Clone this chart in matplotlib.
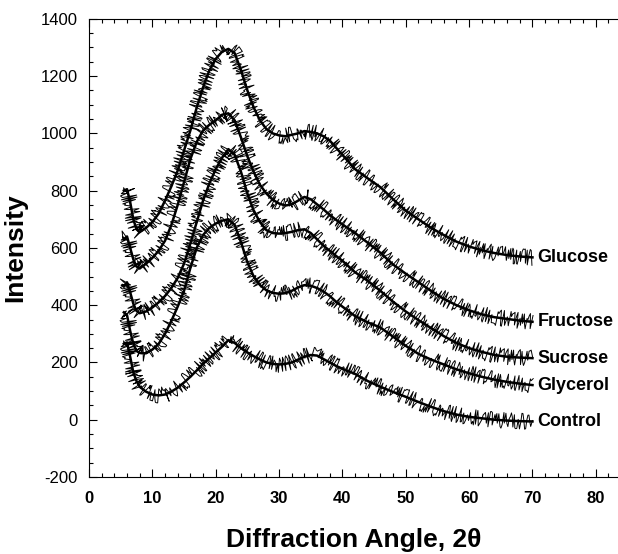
import matplotlib
matplotlib.use("Agg")
import matplotlib.pyplot as plt
from matplotlib.ticker import MultipleLocator

plt.rcParams['font.family'] = ['Liberation Sans', 'DejaVu Sans']
plt.rcParams['axes.unicode_minus'] = False

# diffraction angle (2 theta) sample points
angle = [5.5, 6, 6.5, 7, 7.5, 8,
         9, 10, 11, 12, 13, 14, 15, 16, 17, 18, 19, 20, 21, 22, 23, 24,
         25, 26, 27, 28, 29, 30, 31, 32, 33, 34, 35, 36, 37, 38, 39, 40,
         42, 44, 46, 48, 50, 52, 54, 56, 58, 60, 62, 64, 66, 68, 70]

glucose = [800, 805, 760, 700, 665, 655,
           670, 690, 720, 765, 815, 870, 940, 1010, 1090, 1160, 1220, 1260, 1285, 1295, 1280, 1220,
           1150, 1090, 1045, 1015, 1000, 993, 990, 995, 1000, 1008, 1005, 1000, 990, 975, 950, 925,
           875, 843, 812, 770, 730, 700, 670, 645, 622, 605, 592, 582, 575, 570, 567]

fructose = [630, 640, 600, 560, 535, 528,
            545, 565, 590, 625, 680, 750, 830, 910, 970, 1010, 1030, 1045, 1065, 1070, 1045, 985,
            920, 865, 820, 790, 768, 755, 748, 752, 765, 778, 770, 752, 735, 715, 698, 682,
            652, 618, 583, 542, 510, 480, 450, 422, 400, 382, 368, 358, 352, 346, 342]

sucrose = [465, 480, 445, 405, 380, 372,
           378, 392, 410, 432, 460, 495, 545, 615, 690, 765, 825, 875, 915, 945, 925, 865,
           790, 730, 690, 662, 652, 650, 652, 656, 662, 665, 652, 630, 608, 590, 572, 555,
           515, 485, 450, 412, 378, 348, 320, 292, 268, 250, 237, 226, 220, 217, 215]

glycerol = [375, 365, 310, 265, 240, 233,
            232, 245, 265, 300, 345, 395, 450, 530, 600, 645, 670, 685, 695, 700, 680, 620,
            550, 500, 470, 452, 443, 440, 442, 450, 462, 470, 468, 460, 448, 432, 412, 395,
            362, 340, 322, 290, 258, 230, 210, 193, 176, 162, 150, 140, 132, 126, 121]

control = [265, 270, 220, 165, 135, 115,
           98, 88, 85, 88, 98, 112, 130, 150, 172, 195, 215, 235, 255, 278, 268, 250,
           235, 222, 210, 200, 195, 193, 195, 200, 210, 220, 226, 224, 212, 200, 188, 178,
           160, 135, 115, 97, 80, 62, 45, 30, 18, 10, 5, 0, -3, -5, -6]

names = ["Glucose", "Fructose", "Sucrose", "Glycerol", "Control"]
series = [glucose, fructose, sucrose, glycerol, control]


def main():
    fig = plt.figure(figsize=(6.18, 5.54), dpi=100)
    ax = fig.add_axes([0.144, 0.139, 0.856, 0.827])

    for name, vals in zip(names, series):
        # dark core of the trace
        ax.plot(angle, vals, color="black", linewidth=1.8, solid_joinstyle="round")
        # jagged overlay for the raw-scan look
        line, = ax.plot(angle, vals, color="black", linewidth=0.7)
        line.set_sketch_params(scale=8, length=0.3, randomness=6)
        ax.text(angle[-1] + 0.8, vals[-1], name, fontsize=13, fontweight="bold",
                va="center", ha="left")

    ax.set_xlim(0, 83.5)
    ax.set_ylim(-200, 1400)
    ax.xaxis.set_major_locator(MultipleLocator(10))
    ax.xaxis.set_minor_locator(MultipleLocator(2))
    ax.yaxis.set_major_locator(MultipleLocator(200))
    ax.yaxis.set_minor_locator(MultipleLocator(50))

    ax.spines["right"].set_visible(False)
    for s in ["left", "bottom", "top"]:
        ax.spines[s].set_linewidth(0.8)
    ax.tick_params(which="both", direction="in", top=True, right=False, width=0.8)
    ax.tick_params(which="major", length=6)
    ax.tick_params(which="minor", length=3)
    ax.tick_params(axis="x", labelsize=12, pad=10)
    ax.tick_params(axis="y", labelsize=12, pad=8)
    for lab in ax.get_xticklabels():
        lab.set_fontweight("bold")

    ax.set_xlabel("Diffraction Angle, 2θ", fontsize=19, fontweight="bold", labelpad=16)
    ax.set_ylabel("Intensity", fontsize=19, fontweight="bold", labelpad=10)

    plt.savefig("out.png", dpi=100)


if __name__ == "__main__":
    main()
